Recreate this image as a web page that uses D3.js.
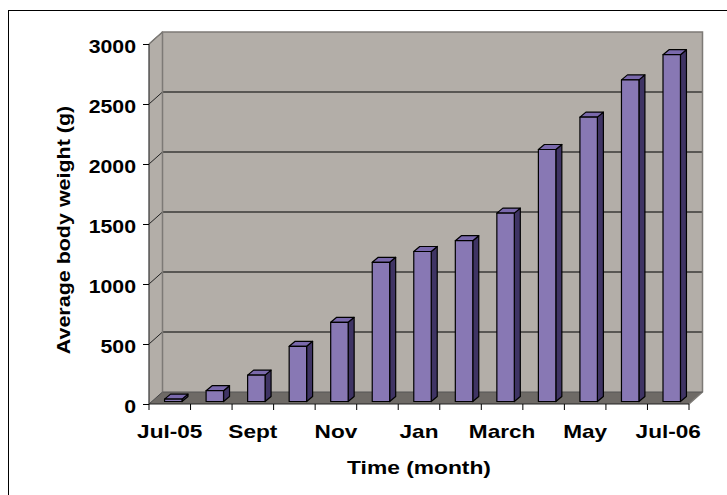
<!DOCTYPE html>
<html>
<head>
<meta charset="utf-8">
<script src="https://cdn.jsdelivr.net/npm/d3@7"></script>
<style>
  html, body { margin: 0; padding: 0; background: #fff; }
  text { font-family: "Liberation Sans", Arial, sans-serif; font-weight: bold; fill: #000; }
</style>
</head>
<body>
<svg id="chart" width="727" height="495"></svg>
<script>
// ---- data ----
const months = ["Jul-05","Aug","Sept","Oct","Nov","Dec","Jan","Feb","March","April","May","June","Jul-06"];
const weights = [20, 90, 220, 460, 660, 1160, 1250, 1340, 1570, 2100, 2370, 2680, 2890];
const shownLabels = ["Jul-05","Sept","Nov","Jan","March","May","Jul-06"];
const yTicks = [0, 500, 1000, 1500, 2000, 2500, 3000];
const xTitle = "Time (month)";
const yTitle = "Average body weight (g)";

// ---- layout ----
const svg = d3.select("#chart");
const pLeft = 149, pRight = 689, pBottom = 404, pTop = 44;
const depth = {dx: 13.5, dy: -12};     // full depth of the plot box
const face = {dx: 3.5, dy: -2.5};      // offset of bar front face
const barD = {dx: 6, dy: -5};          // bar depth
const fs = 19;

const x = d3.scaleBand().domain(months).range([pLeft, pRight]).padding(0);
const y = d3.scaleLinear().domain([0, 3000]).range([pBottom, pTop]);
const bw = x.bandwidth() * 0.42;

// chart area border
svg.append("rect").attr("x", 8.5).attr("y", 10.5).attr("width", 760).attr("height", 500)
  .attr("fill", "#fff").attr("stroke", "#000").attr("stroke-width", 1);

const wallFill = "#b3aea8", floorFill = "#6e6a66", edge = "#7d7a76";
const bx0 = pLeft + depth.dx, bx1 = pRight + depth.dx;
const by0 = pBottom + depth.dy, by1 = pTop + depth.dy;
const pts = arr => arr.map(p => p.join(",")).join(" ");

// back wall
svg.append("rect").attr("x", bx0).attr("y", by1).attr("width", bx1 - bx0).attr("height", by0 - by1)
  .attr("fill", wallFill);
// left wall
svg.append("polygon")
  .attr("points", pts([[pLeft, pBottom], [pLeft, pTop], [bx0, by1], [bx0, by0]]))
  .attr("fill", wallFill);
// floor
svg.append("polygon")
  .attr("points", pts([[pLeft, pBottom], [pRight, pBottom], [bx1, by0], [bx0, by0]]))
  .attr("fill", floorFill);

// gridlines on back wall and left wall
yTicks.forEach(t => {
  const yy = y(t) + depth.dy;
  if (t > 0 && t < 3000) {
    svg.append("line").attr("x1", bx0).attr("x2", bx1).attr("y1", yy).attr("y2", yy)
      .attr("stroke", "#000").attr("stroke-width", 1.2);
  }
  svg.append("line").attr("x1", pLeft).attr("y1", y(t)).attr("x2", bx0).attr("y2", yy)
    .attr("stroke", t === 0 ? "#444" : "#222").attr("stroke-width", 1);
});

// wall edges
svg.append("polyline")
  .attr("points", pts([[bx0, by0], [bx0, by1], [bx1, by1], [bx1, by0], [pRight, pBottom]]))
  .attr("fill", "none").attr("stroke", edge).attr("stroke-width", 1.5);
svg.append("line").attr("x1", bx0).attr("x2", bx1).attr("y1", by0).attr("y2", by0)
  .attr("stroke", "#555").attr("stroke-width", 1);
svg.append("line").attr("x1", pLeft).attr("y1", pTop).attr("x2", bx0).attr("y2", by1)
  .attr("stroke", edge).attr("stroke-width", 1.5);

// bars
const bars = svg.append("g");
months.forEach((m, i) => {
  const v = weights[i];
  const x0 = x(m) + x.bandwidth() / 2 - bw / 2 + face.dx;
  const x1 = x0 + bw;
  const yT = y(v) + face.dy;
  const yB = y(0) + face.dy;
  const g = bars.append("g").attr("stroke", "#000").attr("stroke-width", 1.2).attr("stroke-linejoin", "round");
  g.append("polygon")
    .attr("points", pts([[x1, yB], [x1, yT], [x1 + barD.dx, yT + barD.dy], [x1 + barD.dx, yB + barD.dy]]))
    .attr("fill", "#3f3464");
  g.append("polygon")
    .attr("points", pts([[x0, yT], [x1, yT], [x1 + barD.dx, yT + barD.dy], [x0 + barD.dx, yT + barD.dy]]))
    .attr("fill", "#7a69ac");
  g.append("rect").attr("x", x0).attr("y", yT).attr("width", bw).attr("height", yB - yT)
    .attr("fill", "#8878b4");
});

// front axes
svg.append("line").attr("x1", pLeft).attr("x2", pLeft).attr("y1", pTop).attr("y2", pBottom)
  .attr("stroke", "#333").attr("stroke-width", 1.2);
svg.append("line").attr("x1", pLeft).attr("x2", pRight).attr("y1", pBottom).attr("y2", pBottom)
  .attr("stroke", "#222").attr("stroke-width", 1.2);

// y axis ticks + labels
const yAxis = svg.append("g").attr("transform", `translate(${pLeft},0)`)
  .call(d3.axisLeft(y).tickValues(yTicks).tickSize(6).tickPadding(13).tickFormat(d3.format("d")));
yAxis.select(".domain").remove();
yAxis.selectAll(".tick line").attr("stroke", "#000");
yAxis.selectAll(".tick text")
  .attr("font-size", fs).attr("font-family", null).attr("x", null).attr("dy", null)
  .attr("text-anchor", "end").attr("dominant-baseline", "central")
  .attr("transform", `translate(-13,2) scale(1.12,1)`);

// x axis ticks at band boundaries
const bounds = months.map(m => x(m)).concat([pRight]);
svg.append("g").selectAll("line").data(bounds).join("line")
  .attr("x1", d => d).attr("x2", d => d).attr("y1", pBottom).attr("y2", pBottom + 6)
  .attr("stroke", "#000").attr("stroke-width", 1);

// x labels
svg.append("g").selectAll("text").data(shownLabels).join("text")
  .attr("font-size", fs).attr("text-anchor", "middle")
  .attr("transform", d => `translate(${x(d) + x.bandwidth() / 2},438) scale(1.19,1)`)
  .text(d => d);

// axis titles
svg.append("text").attr("font-size", fs).attr("text-anchor", "middle")
  .attr("transform", `translate(419,474) scale(1.2,1)`).text(xTitle);
svg.append("text").attr("font-size", fs).attr("text-anchor", "middle")
  .attr("transform", `translate(70,230) rotate(-90) scale(1.13,1)`).text(yTitle);
</script>
</body>
</html>
